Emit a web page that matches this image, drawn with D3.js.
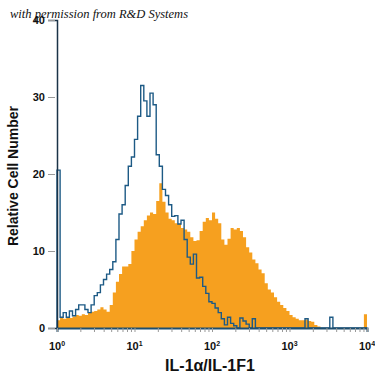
<!DOCTYPE html>
<html lang="en">
<head>
  <meta charset="UTF-8">
  <title>IL-1a flow histogram</title>
  <script src="https://d3js.org/d3.v7.min.js"></script>
  <style>
    body { margin: 0; background: #fff; }
    .lbl { font-family: "Liberation Sans Narrow", "Arial Narrow", "Liberation Sans", sans-serif; font-weight: bold; fill: #111; }
    .wm { font-family: "Liberation Serif", "DejaVu Serif", serif; font-style: italic; font-size: 12.5px; fill: #111; }
  </style>
</head>
<body>
  <svg></svg>
  <script>
    // 100 channels, 0.04 decade each, from 10^0 to 10^4
    const binStep = 0.04;
    const yTicks = [0, 10, 20, 30, 40];
    const xMajors = [0, 1, 2, 3, 4];

    // isotype control (blue outline)
    const isotype = [
      20.5, 1.4, 2.0, 1.4, 2.2, 1.6, 2.4, 3.0, 3.0, 2.4,
      2.0, 3.0, 4.2, 4.6, 5.6, 6.3, 7.0, 7.6, 8.6, 11.5,
      14.8, 16.0, 18.5, 21.0, 22.2, 24.5, 27.5, 31.5, 29.5, 27.5,
      30.5, 29.0, 22.5, 21.0, 18.0, 17.2, 16.0, 14.5, 14.6, 13.5,
      14.0, 11.5, 9.2, 8.3, 9.6, 6.5, 6.6, 5.4, 4.5, 3.4,
      3.2, 2.6, 2.0, 1.2, 0.4, 1.4, 0.6, 0.3, 0, 1.3,
      0.9, 0.5, 0, 1.2, 0, 0, 0, 0, 0, 0,
      0, 0, 0, 0, 0, 0, 0, 0, 0, 0,
      1.2, 0, 0, 0, 0, 0, 0, 0, 1.4, 0,
      0, 0, 0, 0, 0, 0, 0, 0, 0, 0
    ];

    // anti-IL-1a stained cells (orange fill)
    const stained = [
      1.0, 1.3, 1.2, 1.4, 1.3, 1.5, 1.7, 1.6, 1.8, 1.7,
      2.0, 2.1, 2.2, 2.4, 2.7, 2.4, 2.1, 3.0, 4.6, 6.0,
      7.0, 8.0, 8.0, 8.3, 10.0, 11.5, 12.5, 13.2, 14.0, 14.6,
      15.0, 14.8, 16.5, 18.8, 16.4, 15.0, 14.2, 14.0, 13.6, 13.5,
      13.0, 12.8, 12.5, 11.8, 11.3, 11.4, 12.6, 13.8, 14.3, 14.0,
      15.0, 14.2, 13.6, 11.5, 10.8, 11.6, 13.0, 12.8, 13.0, 12.6,
      11.8, 10.5, 9.8, 8.9, 8.4, 7.6, 7.1, 5.8, 5.0, 4.6,
      4.0, 3.4, 3.0, 2.6, 2.2, 1.7, 1.4, 1.2, 1.0, 1.0,
      1.1, 0.9, 0.8, 0.4, 0.2, 0, 0, 0, 0, 0,
      0, 0, 0, 0, 0, 0, 0, 0, 0, 1.8
    ];

    const width = 375, height = 375;
    const svg = d3.select("svg").attr("width", width).attr("height", height);

    const x = d3.scaleLog().domain([1, 1e4]).range([57, 367]);
    const y = d3.scaleLinear().domain([0, 40]).range([328, 20]);

    function toSteps(vals) {
      const pts = [{ e: 1, v: 0 }];
      vals.forEach((v, i) => pts.push({ e: Math.pow(10, i * binStep), v }));
      pts.push({ e: 1e4, v: 0 });
      return pts;
    }

    const area = d3.area().curve(d3.curveStepAfter)
      .x(d => x(d.e)).y0(y(0)).y1(d => y(d.v));
    const line = d3.line().curve(d3.curveStepAfter)
      .x(d => x(d.e)).y(d => y(d.v));

    svg.append("path").datum(toSteps(stained))
      .attr("d", area).attr("fill", "#f6a01f");

    svg.append("path").datum(toSteps(isotype))
      .attr("d", line).attr("fill", "none")
      .attr("stroke", "#1d5a85").attr("stroke-width", 1.4);

    // y axis
    const yAxis = svg.append("g").attr("transform", "translate(57,0)")
      .call(d3.axisLeft(y).tickValues(yTicks).tickSize(9).tickPadding(3));
    yAxis.select(".domain").attr("stroke", "#1b3347").attr("stroke-width", 1.5);
    yAxis.selectAll(".tick line").attr("stroke", "#999").attr("x1", -2);
    yAxis.selectAll(".tick text").attr("class", "lbl").style("font-size", "11px");

    // x axis
    const xAxis = svg.append("g").attr("transform", "translate(0,328)")
      .call(d3.axisBottom(x).tickValues(x.ticks()).tickSize(4).tickFormat(""));
    xAxis.select(".domain").attr("stroke", "#1f4e6e").attr("stroke-width", 2);
    xAxis.selectAll(".tick line").attr("stroke", "#999");

    const xl = svg.append("g");
    xMajors.forEach(p => {
      const t = xl.append("text").attr("class", "lbl")
        .attr("x", x(Math.pow(10, p))).attr("y", 350)
        .attr("text-anchor", "middle").style("font-size", "11px");
      t.append("tspan").text("10");
      t.append("tspan").attr("dy", -4).style("font-size", "7px").text(p);
    });

    svg.append("text").attr("class", "lbl")
      .attr("x", 210).attr("y", 371).attr("text-anchor", "middle")
      .style("font-size", "16px").text("IL-1α/IL-1F1");

    svg.append("text").attr("class", "lbl")
      .attr("transform", "translate(18,176) rotate(-90)")
      .attr("text-anchor", "middle").style("font-size", "14px")
      .text("Relative Cell Number");

    svg.append("text").attr("class", "wm")
      .attr("x", 10).attr("y", 18)
      .text("with permission from R&D Systems");
  </script>
</body>
</html>
